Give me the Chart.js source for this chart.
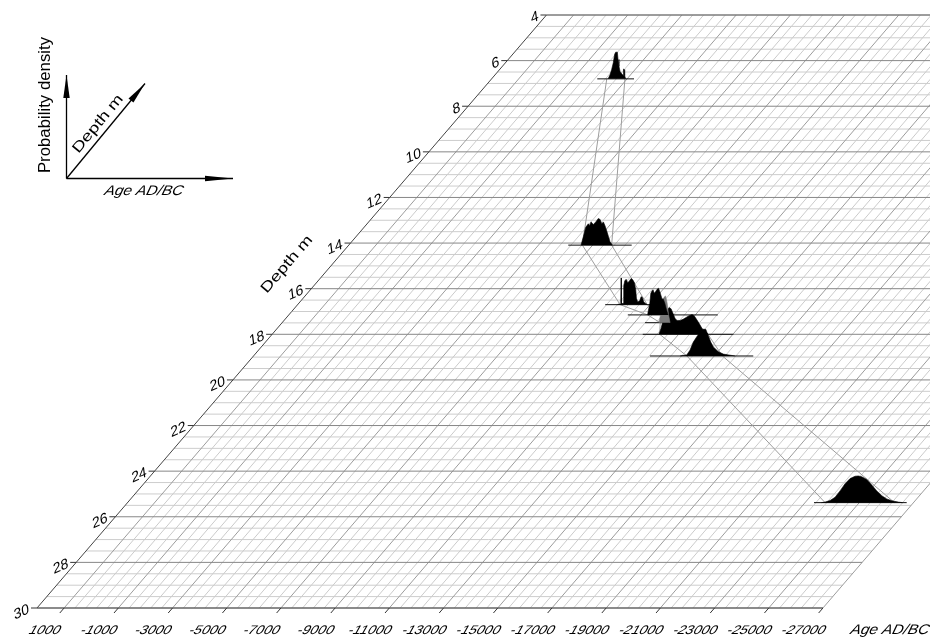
<!DOCTYPE html>
<html>
<head>
<meta charset="utf-8">
<script src="https://cdn.jsdelivr.net/npm/chart.js@4.4.1/dist/chart.umd.min.js"></script>
<style>
  html, body { margin: 0; padding: 0; background: #fff; }
  #c { display: block; }
</style>
</head>
<body>
<canvas id="c" width="930" height="639"></canvas>
<script>
// ---- axes -------------------------------------------------------------
const depthTicks = [4, 6, 8, 10, 12, 14, 16, 18, 20, 22, 24, 26, 28, 30];
const ageTicks = [1000, -1000, -3000, -5000, -7000, -9000, -11000, -13000,
                  -15000, -17000, -19000, -21000, -23000, -25000, -27000];
const AGE_START = 2000, AGE_END = -27000;   // age extent of the depth plane
const DEPTH_TOP = 4, DEPTH_BOTTOM = 30;      // depth extent of the plane (m)

// ---- samples (depth in m) --------------------------------------------
const sampleDepth = [6.8, 14.09, 16.7, 17.15, 17.49, 18.0, 18.95, 25.38];

// probability distributions, age AD/BC and relative density
const ageA  = [-2300, -2370, -2430, -2490, -2540, -2580, -2640, -2665, -2700, -2740, -2800, -2850, -2870, -2890, -2910, -2950];
const probA = [0, 0.15, 0.35, 0.6, 0.92, 1, 1, 0.73, 0.47, 0.28, 0.19, 0.14, 0.37, 0.35, 0.12, 0];

const ageB  = [-6570, -6660, -6745, -6840, -6890, -6940, -7025, -7115, -7210, -7275, -7335, -7395, -7455, -7520, -7580, -7640, -7730];
const probB = [0, 0.33, 0.67, 0.8, 0.74, 0.87, 0.77, 0.87, 1, 0.96, 0.8, 0.87, 0.73, 0.53, 0.33, 0.13, 0];

const ageC  = [-9800, -9925, -9937, -9950, -10010, -10033, -10070, -10122, -10181, -10243, -10306, -10365, -10428, -10476, -10502, -10550, -10624, -10675, -10723, -10771, -10900];
const probC = [0, 0.02, 1.0, 0.03, 0.05, 0.69, 0.89, 0.95, 0.82, 0.89, 0.98, 0.93, 0.82, 0.56, 0.24, 0.1, 0.15, 0.3, 0.27, 0.1, 0];

const ageD  = [-11236, -11284, -11321, -11358, -11406, -11443, -11480, -11531, -11590, -11642, -11690, -11727, -11775, -11812, -11874, -11937, -11996];
const probD = [0, 0.25, 0.44, 0.81, 0.91, 0.94, 0.81, 0.87, 0.96, 1, 0.87, 0.75, 0.59, 0.61, 0.44, 0.19, 0];

const ageD2  = [-11908, -11981, -12037, -12092, -12147, -12203, -12258, -12314];
const probD2 = [0, 0.4, 0.8, 0.95, 1, 0.75, 0.3, 0];

const ageE  = [-12277, -12350, -12424, -12498, -12572, -12646, -12719, -12793, -12867, -12941, -13052, -13162, -13273, -13384, -13494, -13568, -13642, -13753, -13863, -13974, -14085];
const probE = [0, 0.22, 0.52, 0.67, 0.89, 1, 0.96, 0.78, 0.59, 0.52, 0.52, 0.56, 0.63, 0.7, 0.74, 0.7, 0.59, 0.41, 0.22, 0.11, 0];

const ageF  = [-13740, -13985, -14107, -14229, -14354, -14476, -14598, -14686, -14782, -14871, -14967, -15151, -15336, -15583, -15770];
const probF = [0, 0.04, 0.22, 0.52, 0.72, 0.88, 1, 1, 0.76, 0.52, 0.34, 0.16, 0.07, 0.03, 0];

const ageG  = [-23600, -23738, -23922, -24107, -24291, -24476, -24660, -24845, -24967, -25092, -25276, -25461, -25645, -25830, -26014, -26199, -26443, -26600];
const probG = [0, 0.02, 0.08, 0.2, 0.44, 0.71, 0.9, 0.99, 1, 0.97, 0.87, 0.66, 0.44, 0.26, 0.14, 0.07, 0.02, 0];

// horizontal base line drawn under each distribution
const baseFrom = [-1900, -6100, -9350, -10510, -11390, -11675, -12630, -23330];
const baseTo   = [-3255, -8440, -11050, -13830, -12500, -15020, -16440, -26750];

// 95% range of each sample, joined from sample to sample
const rangeFrom = [-2250, -6620, -9900, -11240, -11950, -12300, -13990, -23740];
const rangeTo   = [-2920, -7700, -10900, -12000, -12260, -14080, -15300, -26300];

const sampleAges  = [ageA, ageB, ageC, ageD, ageD2, ageE, ageF, ageG];
const sampleProbs = [probA, probB, probC, probD, probD2, probE, probF, probG];
const sampleFill  = ['#000', '#000', '#000', '#000', '#7a7a7a', '#000', '#000', '#000'];

// ---- oblique projection -----------------------------------------------
// Depth recedes up and to the right: each metre shifts the age axis by SKEW years.
const SKEW = 723;
const PEAK = 1.17;           // height of a density peak, in metres of the depth scale
const proj = (age, depth) => -age + SKEW * (DEPTH_BOTTOM - depth);

const datasets = [];
sampleDepth.forEach((d, i) => {
  datasets.push({
    data: sampleAges[i].map((a, k) => ({ x: proj(a, d), y: d - PEAK * sampleProbs[i][k] })),
    borderColor: sampleFill[i], backgroundColor: sampleFill[i], borderWidth: 0.6,
    fill: { value: d }, order: 0
  });
});
sampleDepth.forEach((d, i) => {
  datasets.push({
    data: [{ x: proj(baseFrom[i], d), y: d }, { x: proj(baseTo[i], d), y: d }],
    borderColor: '#111', borderWidth: 1, fill: false, order: 1
  });
});
[rangeFrom, rangeTo].forEach(r => {
  datasets.push({
    data: sampleDepth.map((d, i) => ({ x: proj(r[i], d), y: d })),
    borderColor: '#9d9d9d', borderWidth: 1, fill: false, order: 2
  });
});

const FONT = '"Liberation Sans", Arial, sans-serif';
function text(ctx, s, x, y, o) {
  ctx.save();
  ctx.translate(x, y);
  ctx.rotate(o.rot || 0);
  ctx.transform(o.sx || 1, 0, -(o.shear || 0), 1, 0, 0);
  ctx.font = (o.style || '') + ' ' + o.size + 'px ' + FONT;
  ctx.textAlign = o.align || 'center';
  ctx.textBaseline = 'middle';
  ctx.fillStyle = '#000';
  ctx.fillText(s, 0, 0);
  ctx.restore();
}
function arrow(ctx, x0, y0, x1, y1, len, half) {
  const a = Math.atan2(y1 - y0, x1 - x0);
  ctx.beginPath(); ctx.moveTo(x0, y0); ctx.lineTo(x1, y1); ctx.stroke();
  const bx = x1 - len * Math.cos(a), by = y1 - len * Math.sin(a);
  ctx.beginPath();
  ctx.moveTo(x1, y1);
  ctx.lineTo(bx + half * Math.sin(a), by - half * Math.cos(a));
  ctx.lineTo(bx - half * Math.sin(a), by + half * Math.cos(a));
  ctx.closePath(); ctx.fill();
}

const planePlugin = {
  id: 'depthPlane',
  beforeDatasetsDraw(chart) {
    const { ctx, scales: { x, y } } = chart;
    const P = (age, d) => [x.getPixelForValue(proj(age, d)), y.getPixelForValue(d)];
    const seg = (a, b, col, w) => {
      ctx.strokeStyle = col; ctx.lineWidth = w || 1;
      ctx.beginPath(); ctx.moveTo(a[0], a[1]); ctx.lineTo(b[0], b[1]); ctx.stroke();
    };
    ctx.save();
    // minor grid
    for (let d = DEPTH_TOP; d <= DEPTH_BOTTOM; d += 0.5) {
      if (d % 2 !== 0) seg(P(AGE_START, d), P(AGE_END, d), '#cdcdcd');
    }
    for (let a = 1000; a >= AGE_END; a -= 400) {
      if ((1000 - a) % 2000 !== 0) seg(P(a, DEPTH_TOP), P(a, DEPTH_BOTTOM), '#cbcbcb');
    }
    // major grid
    for (let a = 1000; a >= AGE_END; a -= 2000) seg(P(a, DEPTH_TOP), P(a, DEPTH_BOTTOM), '#9c9c9c');
    depthTicks.forEach(d => seg(P(AGE_START, d), P(AGE_END, d), '#878787'));
    // frame
    seg(P(AGE_START, DEPTH_TOP), P(AGE_START, DEPTH_BOTTOM), '#444');
    seg(P(AGE_START, DEPTH_BOTTOM), P(AGE_END, DEPTH_BOTTOM), '#555', 1.2);
    seg(P(AGE_START, DEPTH_TOP), P(AGE_END, DEPTH_TOP), '#777');
    // ticks
    depthTicks.forEach(d => {
      const p = P(AGE_START, d);
      seg([p[0] - 6, p[1]], p, '#333');
    });
    ageTicks.forEach(a => seg(P(a, DEPTH_BOTTOM), P(a, DEPTH_BOTTOM + 0.22), '#333'));
    ctx.restore();
  },
  afterDraw(chart) {
    const { ctx, scales: { x, y } } = chart;
    const P = (age, d) => [x.getPixelForValue(proj(age, d)), y.getPixelForValue(d)];
    ctx.save();
    // depth tick labels
    depthTicks.forEach(d => {
      const p = P(AGE_START, d);
      text(ctx, String(d), p[0] - 8, p[1] + 1, { size: 14, align: 'right', rot: -0.42, shear: 0.3, sx: 1.05 });
    });
    // age tick labels
    ageTicks.forEach(a => {
      const p = P(a, DEPTH_BOTTOM + 0.98);
      text(ctx, String(a), p[0], p[1], { size: 12.5, shear: 0.55, sx: 1.12 });
    });
    // axis titles
    const ang = Math.atan2(y.getPixelForValue(DEPTH_TOP) - y.getPixelForValue(DEPTH_BOTTOM),
                           P(AGE_START, DEPTH_TOP)[0] - P(AGE_START, DEPTH_BOTTOM)[0]);
    const t = P(AGE_START, 15.2);
    text(ctx, 'Depth m', t[0] - 40, t[1] - 6, { size: 14.5, rot: ang, sx: 1.3 });
    text(ctx, 'Age AD/BC', 890, 630, { size: 14, style: 'italic', shear: 0.25, sx: 1.1 });

    // orientation key
    ctx.strokeStyle = '#000'; ctx.fillStyle = '#000'; ctx.lineWidth = 1.3;
    const ox = 66.5, oy = 178.5;
    arrow(ctx, ox, oy, ox, 75, 23, 3.2);
    arrow(ctx, ox, oy, 233, oy, 28, 2.8);
    arrow(ctx, ox, oy, 145, 83.5, 22, 3.2);
    text(ctx, 'Probability density', 45, 105, { size: 16.8, rot: -Math.PI / 2 });
    text(ctx, 'Depth m', 98, 124, { size: 14.5, rot: Math.atan2(83.5 - oy, 145 - ox), sx: 1.3 });
    text(ctx, 'Age AD/BC', 144, 191, { size: 14, style: 'italic', shear: 0.25, sx: 1.1 });
    ctx.restore();
  }
};

new Chart(document.getElementById('c'), {
  type: 'line',
  data: { datasets },
  options: {
    responsive: false,
    animation: false,
    devicePixelRatio: 1,
    layout: { padding: { left: 37, right: 0, top: 15, bottom: 31 } },
    scales: {
      x: { type: 'linear', display: false, min: -AGE_START, max: -AGE_START + 32950 },
      y: { type: 'linear', display: false, reverse: true, min: DEPTH_TOP, max: DEPTH_BOTTOM }
    },
    elements: { point: { radius: 0 }, line: { tension: 0 } },
    plugins: { legend: { display: false }, tooltip: { enabled: false } }
  },
  plugins: [planePlugin]
});
</script>
</body>
</html>
